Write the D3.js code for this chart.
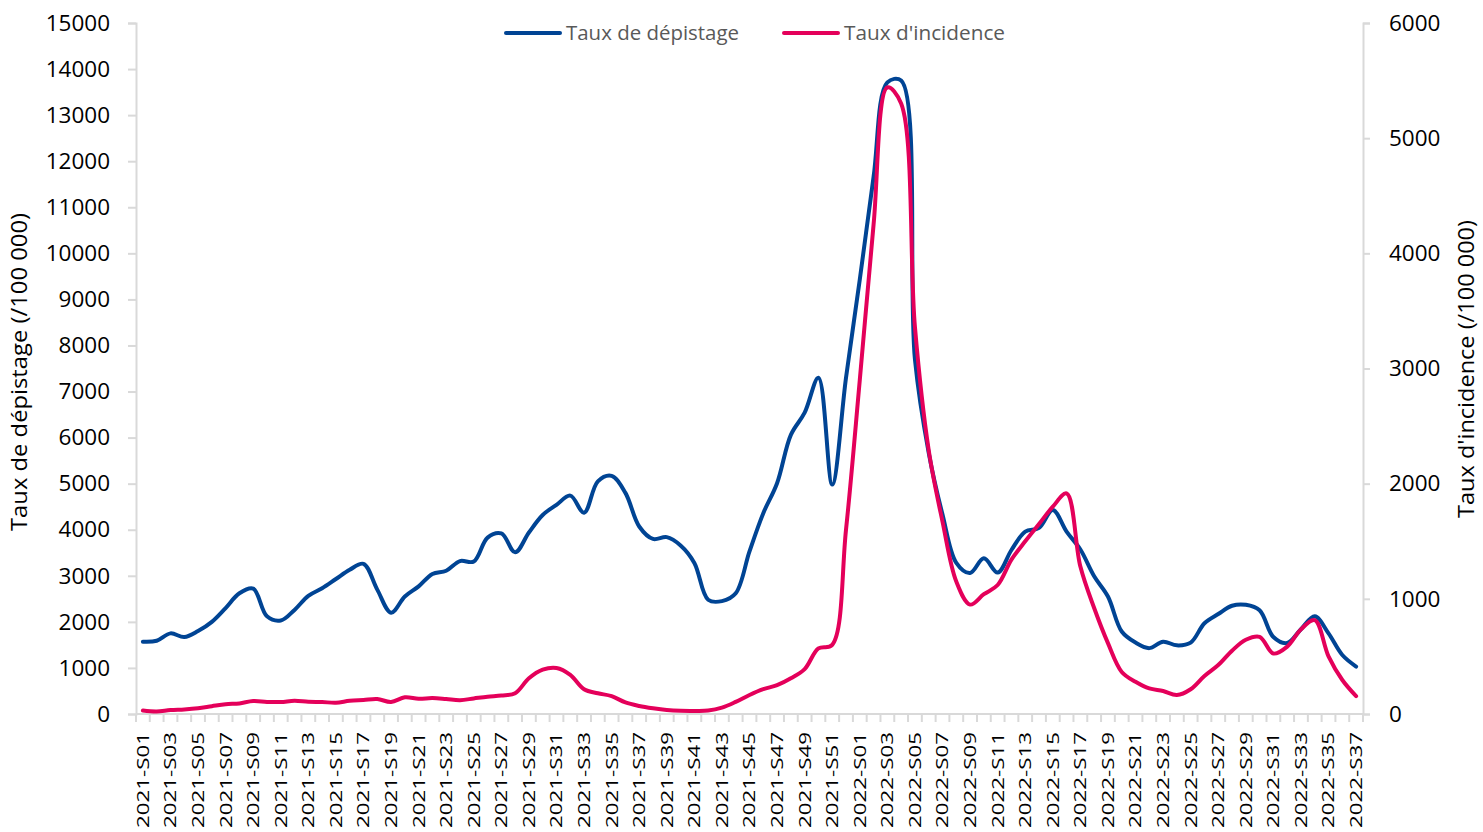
<!DOCTYPE html>
<html><head><meta charset="utf-8">
<script src="https://cdn.jsdelivr.net/npm/d3@7/dist/d3.min.js"></script>
<style>body{margin:0;background:#fff;} svg{display:block;}</style>
</head><body><svg id="c" width="1483" height="832"></svg>
<script>
const weeks = [
"2021-S01","2021-S02","2021-S03","2021-S04","2021-S05","2021-S06","2021-S07","2021-S08","2021-S09","2021-S10",
"2021-S11","2021-S12","2021-S13","2021-S14","2021-S15","2021-S16","2021-S17","2021-S18","2021-S19","2021-S20",
"2021-S21","2021-S22","2021-S23","2021-S24","2021-S25","2021-S26","2021-S27","2021-S28","2021-S29","2021-S30",
"2021-S31","2021-S32","2021-S33","2021-S34","2021-S35","2021-S36","2021-S37","2021-S38","2021-S39","2021-S40",
"2021-S41","2021-S42","2021-S43","2021-S44","2021-S45","2021-S46","2021-S47","2021-S48","2021-S49","2021-S50",
"2021-S51","2021-S52","2022-S01","2022-S02","2022-S03","2022-S04","2022-S05","2022-S06","2022-S07","2022-S08",
"2022-S09","2022-S10","2022-S11","2022-S12","2022-S13","2022-S14","2022-S15","2022-S16","2022-S17","2022-S18",
"2022-S19","2022-S20","2022-S21","2022-S22","2022-S23","2022-S24","2022-S25","2022-S26","2022-S27","2022-S28",
"2022-S29","2022-S30","2022-S31","2022-S32","2022-S33","2022-S34","2022-S35","2022-S36","2022-S37"];

const tauxDepistage = [
1570,1590,1750,1670,1800,2000,2300,2620,2720,2120,
2030,2260,2565,2730,2930,3130,3260,2700,2200,2550,
2770,3040,3110,3320,3310,3830,3920,3510,3940,4320,
4540,4740,4370,5050,5170,4800,4070,3800,3840,3660,
3280,2480,2450,2620,3530,4360,5010,6060,6540,7300,
4980,7300,9430,11660,13710,13750,7700,5670,4330,3280,
3060,3380,3070,3560,3960,4040,4430,3960,3570,2990,
2550,1790,1550,1430,1570,1490,1550,1970,2170,2350,
2370,2250,1670,1540,1840,2120,1750,1280,1030];

const tauxIncidence = [
30,22,35,40,50,68,85,92,112,105,
104,115,106,104,98,115,122,130,105,145,
133,138,130,120,135,150,160,180,310,385,
400,340,215,180,155,100,70,50,35,28,
27,30,55,105,165,215,250,310,390,570,
600,1600,2900,4250,5440,5300,3360,2290,1670,1150,
950,1040,1120,1340,1500,1650,1800,1915,1280,920,
615,365,280,222,200,165,215,330,425,550,
645,670,525,585,735,815,500,295,155];

const leftTicks = [0,1000,2000,3000,4000,5000,6000,7000,8000,9000,10000,11000,12000,13000,14000,15000];
const rightTicks = [0,1000,2000,3000,4000,5000,6000];
const seriesNames = ["Taux de dépistage", "Taux d'incidence"];
const axisTitles = ["Taux de dépistage (/100 000)", "Taux d'incidence (/100 000)"];
const seriesColors = ["#004494", "#E4005A"];

const svg = d3.select("#c");
const m = {left:136, right:1363, top:23, bottom:714};
const font = "'Open Sans', 'Liberation Sans', sans-serif";

const x = d3.scaleBand().domain(weeks).range([m.left, m.right]).padding(0);
const yL = d3.scaleLinear().domain([0,15000]).range([m.bottom, m.top]);
const yR = d3.scaleLinear().domain([0,6000]).range([m.bottom, m.top]);
const axisColor = "#D9D9D9";

// Left axis
const gL = svg.append("g").attr("transform", `translate(${m.left},0)`)
  .call(d3.axisLeft(yL).tickValues(leftTicks).tickSize(8).tickPadding(18).tickFormat(d3.format("d")));
gL.select(".domain").attr("stroke", axisColor).attr("stroke-width", 2);
gL.selectAll(".tick line").attr("stroke", axisColor).attr("stroke-width", 2);
gL.selectAll(".tick text").attr("font-family", font).attr("font-size", 22.5).attr("fill", "#000");

// Right axis
const gR = svg.append("g").attr("transform", `translate(${m.right},0)`)
  .call(d3.axisRight(yR).tickValues(rightTicks).tickSize(7).tickPadding(19).tickFormat(d3.format("d")));
gR.select(".domain").attr("stroke", axisColor).attr("stroke-width", 2);
gR.selectAll(".tick line").attr("stroke", axisColor).attr("stroke-width", 2);
gR.selectAll(".tick text").attr("font-family", font).attr("font-size", 22.5).attr("fill", "#000");

// Bottom axis: line, tick marks at category boundaries, labels every other week
const gB = svg.append("g").attr("transform", `translate(0,${m.bottom})`);
gB.append("line").attr("x1", m.left).attr("x2", m.right).attr("y1", 0).attr("y2", 0)
  .attr("stroke", axisColor).attr("stroke-width", 2);
const boundaries = weeks.map(w => x(w)).concat([x(weeks[weeks.length-1]) + x.bandwidth()]);
gB.selectAll("line.tk").data(boundaries).join("line").attr("class","tk")
  .attr("x1", d => d).attr("x2", d => d).attr("y1", 0).attr("y2", 8)
  .attr("stroke", axisColor).attr("stroke-width", 2);
const labelWeeks = weeks.filter((w,i) => i % 2 === 0);
const gBL = svg.append("g").attr("transform", `translate(0,${m.bottom})`)
  .call(d3.axisBottom(x).tickValues(labelWeeks).tickSize(0));
gBL.select(".domain").remove();
gBL.selectAll(".tick text")
  .attr("font-family", font).attr("font-size", 16.5).attr("fill", "#000")
  .attr("transform", "rotate(-90)").attr("text-anchor", "end")
  .attr("x", -18).attr("y", 0).attr("dy", "0.36em")
  .attr("textLength", 96).attr("lengthAdjust", "spacingAndGlyphs");

// Axis titles
svg.append("text").attr("transform", `translate(27,372) rotate(-90)`)
  .attr("text-anchor", "middle").attr("font-family", font).attr("font-size", 22)
  .attr("fill", "#000").attr("textLength", 318).attr("lengthAdjust", "spacingAndGlyphs")
  .text(axisTitles[0]);
svg.append("text").attr("transform", `translate(1474,369) rotate(-90)`)
  .attr("text-anchor", "middle").attr("font-family", font).attr("font-size", 22)
  .attr("fill", "#000").attr("textLength", 298).attr("lengthAdjust", "spacingAndGlyphs")
  .text(axisTitles[1]);

// Lines
const cx = w => x(w) + x.bandwidth()/2;
const lineL = d3.line().x((d,i) => cx(weeks[i])).y(d => yL(d)).curve(d3.curveCatmullRom.alpha(0.5));
const lineR = d3.line().x((d,i) => cx(weeks[i])).y(d => yR(d)).curve(d3.curveCatmullRom.alpha(0.5));
svg.append("path").attr("d", lineL(tauxDepistage)).attr("fill", "none")
  .attr("stroke", seriesColors[0]).attr("stroke-width", 4).attr("stroke-linejoin", "round").attr("stroke-linecap", "round");
svg.append("path").attr("d", lineR(tauxIncidence)).attr("fill", "none")
  .attr("stroke", seriesColors[1]).attr("stroke-width", 4).attr("stroke-linejoin", "round").attr("stroke-linecap", "round");

// Legend
const legendItems = [
  {name: seriesNames[0], color: seriesColors[0], x: 506, len: 173},
  {name: seriesNames[1], color: seriesColors[1], x: 784, len: 161}
];
const lg = svg.append("g");
legendItems.forEach(it => {
  lg.append("line").attr("x1", it.x).attr("x2", it.x + 54).attr("y1", 33).attr("y2", 33)
    .attr("stroke", it.color).attr("stroke-width", 4).attr("stroke-linecap", "round");
  lg.append("text").attr("x", it.x + 60).attr("y", 33).attr("dy", "0.35em")
    .attr("font-family", font).attr("font-size", 20).attr("fill", "#595959")
    .attr("textLength", it.len).attr("lengthAdjust", "spacingAndGlyphs")
    .text(it.name);
});
</script></body></html>
